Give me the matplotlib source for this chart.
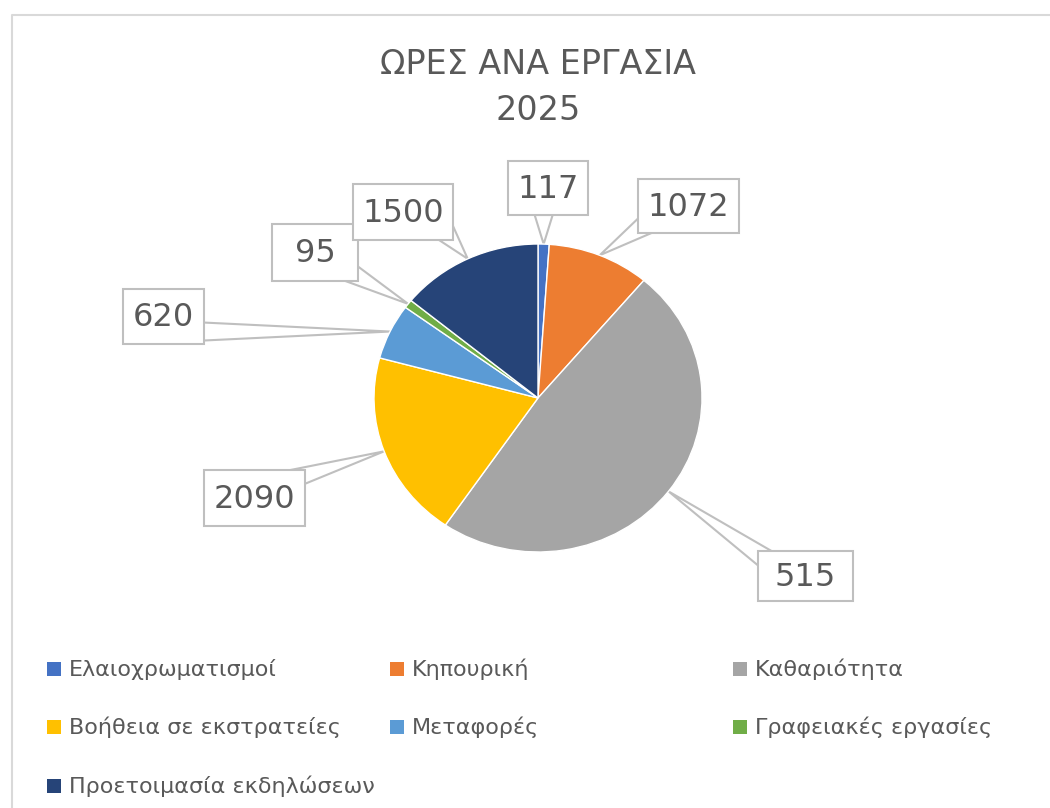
import numpy as np
import matplotlib
matplotlib.use("Agg")
import matplotlib.pyplot as plt
from matplotlib.patches import Rectangle, Polygon

tasks = ["Ελαιοχρωματισμοί", "Κηπουρική", "Καθαριότητα",
         "Βοήθεια σε εκστρατείες", "Μεταφορές", "Γραφειακές εργασίες",
         "Προετοιμασία εκδηλώσεων"]
hours = [117, 1072, 5150, 2090, 620, 95, 1500]
# the callout for Καθαριότητα only shows "515" in the original chart
label_text = ["117", "1072", "515", "2090", "620", "95", "1500"]
colors = ["#4472C4", "#ED7D31", "#A5A5A5", "#FFC000", "#5B9BD5", "#70AD47", "#264478"]

W, H = 1050, 808
plt.rcParams["font.family"] = ["DejaVu Sans"]
fig = plt.figure(figsize=(W / 100, H / 100), dpi=100)

ax = fig.add_axes([0, 0, 1, 1])
ax.set_xlim(0, W)
ax.set_ylim(H, 0)
ax.axis("off")

# chart area border (only left and top are visible)
ax.plot([12, 12, W], [H, 15, 15], color="#D9D9D9", lw=1.5)

ax.text(538, 64, "ΩΡΕΣ ΑΝΑ ΕΡΓΑΣΙΑ", ha="center", va="center", fontsize=24, color="#595959")
ax.text(538, 111, "2025", ha="center", va="center", fontsize=24, color="#595959")

# pie (slightly wider than tall, like the reference)
cx, cy, rx, ry = 538, 398, 164, 154
pax = fig.add_axes([(cx - rx) / W, 1 - (cy + ry) / H, 2 * rx / W, 2 * ry / H])
pax.pie(hours, colors=colors, startangle=90, counterclock=False,
        wedgeprops=dict(edgecolor="white", linewidth=1))
pax.set_aspect("auto")
pax.set_xlim(-1, 1)
pax.set_ylim(-1, 1)

frac = np.array(hours) / sum(hours)
mid = (np.cumsum(frac) - frac / 2) * 2 * np.pi
tip_x = cx + rx * np.sin(mid)
tip_y = cy - ry * np.cos(mid)

# callout boxes (pixel layout)
box_centers = [(548, 188), (688, 206), (805, 576), (254, 498), (163, 316), (315, 252), (403, 212)]
box_sizes = [(80, 54), (101, 54), (95, 50), (101, 56), (81, 55), (86, 57), (100, 56)]


def base_points(x0, y0, x1, y1, tx, ty, gap=9):
    if x0 <= tx <= x1:
        ey = y1 if ty > y1 else y0
        return (tx - gap, ey), (tx + gap, ey)
    if y0 <= ty <= y1:
        ex = x1 if tx > x1 else x0
        return (ex, ty - gap), (ex, ty + gap)
    corner_x = x1 if tx > x1 else x0
    corner_y = y1 if ty > y1 else y0
    dx = -14 if corner_x == x1 else 14
    dy = -14 if corner_y == y1 else 14
    return (corner_x + dx, corner_y), (corner_x, corner_y + dy)


for (bx, by), (bw, bh), txt, tx, ty in zip(box_centers, box_sizes, label_text, tip_x, tip_y):
    x0, y0, x1, y1 = bx - bw / 2, by - bh / 2, bx + bw / 2, by + bh / 2
    p1, p2 = base_points(x0, y0, x1, y1, tx, ty)
    ax.add_patch(Polygon([p1, (tx, ty), p2], closed=True, facecolor="white",
                         edgecolor="#BFBFBF", lw=1.5, zorder=2))
    ax.add_patch(Rectangle((x0, y0), bw, bh, facecolor="white",
                           edgecolor="#BFBFBF", lw=1.5, zorder=3))
    ax.text(bx, by + 1, txt, ha="center", va="center", fontsize=23, color="#595959", zorder=4)

# legend
leg_x = [47, 390, 733]
leg_y = [669, 727, 786]
for i, (name, col) in enumerate(zip(tasks, colors)):
    lx = leg_x[i % 3]
    ly = leg_y[i // 3]
    ax.add_patch(Rectangle((lx, ly - 7), 14, 14, facecolor=col, edgecolor="none"))
    ax.text(lx + 22, ly, name, ha="left", va="center", fontsize=16, color="#595959")

fig.savefig("out.png", dpi=100, facecolor="white")
